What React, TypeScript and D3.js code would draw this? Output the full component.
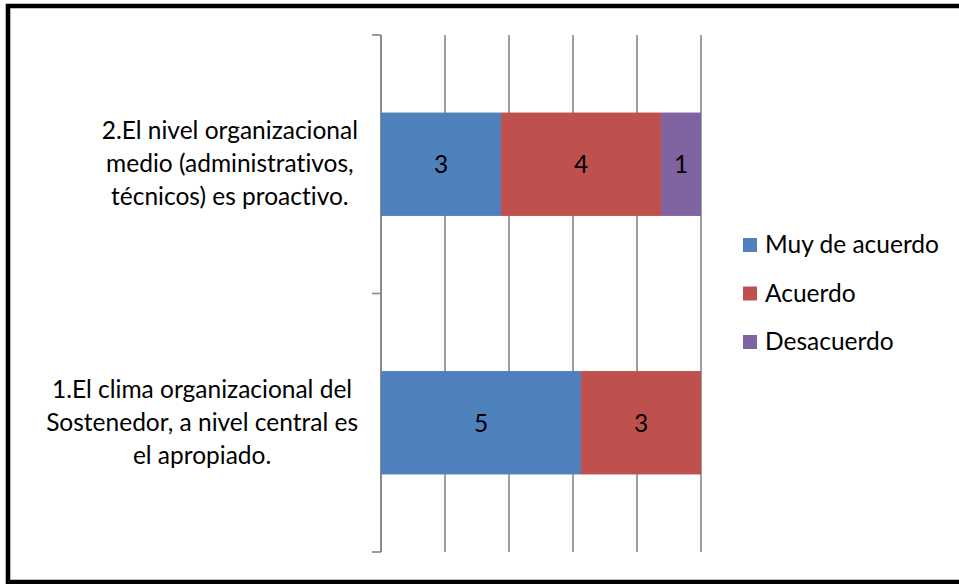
import React, { useEffect, useRef } from "react";
import * as d3 from "d3";

const categories = [
  ["2.El nivel organizacional", "medio (administrativos,", "técnicos) es proactivo."],
  ["1.El clima organizacional del", "Sostenedor, a nivel central es", "el apropiado."],
];
const seriesNames = ["Muy de acuerdo", "Acuerdo", "Desacuerdo"];
const muyDeAcuerdo = [3, 5];
const acuerdo = [4, 3];
const desacuerdo = [1, 0];
const colors = ["#4F81BD", "#C0504D", "#8064A2"];
const tickValues = [0, 0.2, 0.4, 0.6, 0.8, 1];

const FONT = "Lato, 'Open Sans', sans-serif";
const FS = 24.5;

export default function App() {
  const ref = useRef<SVGSVGElement | null>(null);

  useEffect(() => {
    const svg = d3.select(ref.current);
    svg.selectAll("*").remove();
    svg.style("font-variant-ligatures", "none");

    const W = 959, H = 584;
    svg.append("rect").attr("x", 0).attr("y", 0).attr("width", W).attr("height", H).attr("fill", "#fff");
    svg.append("path")
      .attr("d", `M ${W + 5} 6 L 8 6 L 8 582 L ${W + 5} 582`)
      .attr("fill", "none").attr("stroke", "#000").attr("stroke-width", 4.6);

    const x = d3.scaleLinear().domain([0, 1]).range([381, 701]);
    const keys = categories.map((_, i) => String(i));
    const y = d3.scaleBand().domain(keys).range([35, 552]).paddingInner(0.6).paddingOuter(0.3);

    svg.append("g").selectAll("line").data(tickValues).join("line")
      .attr("x1", d => x(d)).attr("x2", d => x(d))
      .attr("y1", 35).attr("y2", 552)
      .attr("stroke", "#868686").attr("stroke-width", 1.6);

    const ax = svg.append("g");
    ax.append("line").attr("x1", 381).attr("x2", 381).attr("y1", 35).attr("y2", 552)
      .attr("stroke", "#868686").attr("stroke-width", 1.6);
    const tickYs = [35, ...keys.slice(1).map(k => (y(k) as number) - y.step() * y.paddingInner() / 2), 552];
    ax.selectAll("line.t").data(tickYs).join("line").attr("class", "t")
      .attr("x1", 372).attr("x2", 381).attr("y1", d => d).attr("y2", d => d)
      .attr("stroke", "#868686").attr("stroke-width", 1.6);

    const series = [muyDeAcuerdo, acuerdo, desacuerdo];
    keys.forEach((k, i) => {
      const total = series.reduce((s, arr) => s + arr[i], 0);
      let acc = 0;
      series.forEach((arr, si) => {
        const v = arr[i];
        if (!v) return;
        const x0 = x(acc / total), x1 = x((acc + v) / total);
        acc += v;
        svg.append("rect")
          .attr("x", x0).attr("y", y(k) as number)
          .attr("width", x1 - x0).attr("height", y.bandwidth())
          .attr("fill", colors[si]);
        svg.append("text")
          .attr("x", (x0 + x1) / 2).attr("y", (y(k) as number) + y.bandwidth() / 2 + 9)
          .attr("text-anchor", "middle").attr("font-family", FONT).attr("font-size", FS)
          .attr("fill", "#000").text(String(v));
      });
    });

    categories.forEach((lines, i) => {
      const cy = (y(keys[i]) as number) + y.bandwidth() / 2;
      const g = svg.append("g");
      const texts = lines.map((ln, li) =>
        g.append("text").attr("font-family", FONT).attr("font-size", FS).attr("fill", "#000")
          .attr("text-anchor", "middle").attr("y", cy + 8 + (li - 1) * 33).text(ln));
      const widths = texts.map(t => (t.node() as SVGTextElement).getComputedTextLength());
      const maxW = Math.max(...widths);
      const right = 358;
      texts.forEach(t => t.attr("x", right - maxW / 2));
    });

    seriesNames.forEach((name, i) => {
      const cy = 245 + i * 48.5;
      svg.append("rect").attr("x", 743).attr("y", cy - 7).attr("width", 14).attr("height", 14).attr("fill", colors[i]);
      svg.append("text").attr("x", 765).attr("y", cy + 8).attr("font-family", FONT).attr("font-size", FS)
        .attr("fill", "#000").text(name);
    });
  }, []);

  return (
    <svg ref={ref} width={959} height={584}
      style={{ position: "absolute", left: 0, top: 0, display: "block" }} />
  );
}
